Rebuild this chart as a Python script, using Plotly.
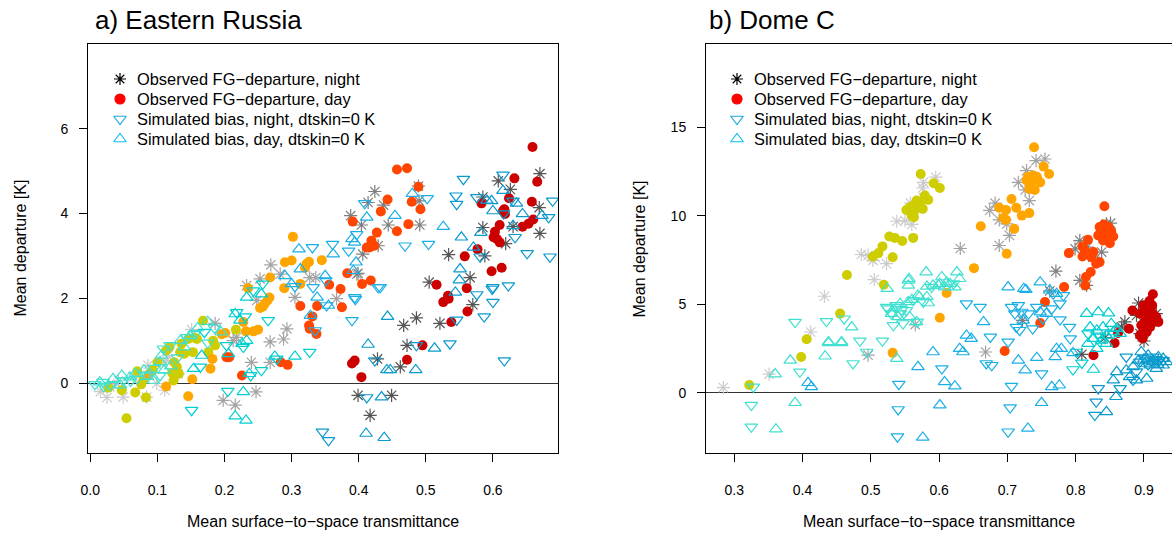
import plotly.graph_objects as go

# ---------------- DATA ----------------
# group = channel group index (1..4) shown by colour shade
# ---- a) Eastern Russia ----
er_day_x = [0.027,0.047,0.067,0.054,0.070,0.079,0.076,0.083,0.093,0.100,0.118,0.122,0.125,0.129,0.132,0.124,0.136,0.140,0.146,0.155,0.159,0.153,0.168,0.176,0.183,0.186,0.217,0.113,0.134,
            0.087,0.113,0.146,0.152,0.179,0.182,0.196,0.201,0.228,0.232,0.243,0.250,0.235,0.253,0.257,0.260,0.264,0.267,0.268,0.289,0.290,0.300,0.302,0.313,0.320,0.322,0.326,0.345,
            0.203,0.207,0.226,0.284,0.294,0.313,0.326,0.331,0.337,0.338,0.356,0.373,0.375,0.383,0.391,0.457,0.472,0.489,0.443,0.479,0.492,0.433,0.427,0.419,0.416,0.423,0.412,0.457,0.474,0.405,0.418,0.327,
            0.390,0.394,0.404,0.472,0.495,0.516,0.526,0.533,0.534,0.538,0.562,0.561,0.659,0.632,0.666,0.583,0.624,0.658,0.617,0.618,0.615,0.610,0.603,0.601,0.606,0.610,0.644,0.653,0.660,0.577,0.558,0.598,0.613]
er_day_y = [-0.11,-0.17,-0.22,-0.83,0.28,0.08,-0.03,-0.34,0.30,0.49,0.85,0.24,0.49,0.38,0.22,0.06,0.93,0.69,1.04,1.07,1.04,0.73,1.47,0.73,1.00,0.89,1.26,0.77,0.73,
            0.20,-0.08,-0.31,0.09,0.34,0.57,1.15,1.18,1.44,1.22,1.22,1.26,2.24,1.77,1.80,1.87,1.95,2.02,2.49,2.24,2.85,2.89,3.45,2.34,2.72,2.81,2.86,2.90,
            0.61,0.61,0.18,0.49,0.43,1.82,1.36,1.57,1.16,1.82,2.32,2.22,1.79,2.59,3.81,5.04,5.07,4.63,4.33,4.28,4.10,4.05,3.55,3.36,3.20,3.24,3.20,3.58,3.75,2.34,2.42,1.28,
            0.46,0.53,0.14,0.55,0.89,2.32,1.91,2.06,1.99,1.44,1.69,2.24,5.57,4.83,4.75,4.24,4.36,4.28,4.10,3.99,4.06,3.73,3.57,3.44,3.40,3.32,3.69,3.76,3.86,3.16,2.99,2.64,2.72]
er_day_g = [1]*29 + [2]*28 + [3]*32 + [4]*33

er_night_x = [0.025,0.049,0.042,0.064,0.086,0.104,0.114,0.116,0.151,0.099,0.084,0.111,0.131,0.015,0.035,
              0.198,0.216,0.186,0.213,0.218,0.233,0.248,0.253,0.269,0.283,0.240,0.268,0.268,0.288,0.293,0.247,0.305,0.327,0.336,0.367,0.397,
              0.424,0.414,0.437,0.489,0.490,0.388,0.404,0.444,0.491,0.429,0.406,0.399,
              0.608,0.670,0.626,0.585,0.669,0.585,0.630,0.619,0.588,0.670,0.534,0.566,0.505,0.570,0.521,0.486,0.467,0.472,0.428,0.462,0.399,0.449,0.417]
er_night_y = [-0.34,-0.33,0.06,0.14,0.42,0.49,0.53,0.65,1.26,-0.01,-0.33,-0.17,0.22,-0.20,-0.05,
              -0.41,-0.52,1.41,1.00,1.08,2.30,1.95,2.46,2.79,2.57,0.49,0.49,0.97,1.04,1.28,-0.21,2.02,2.49,2.49,1.99,2.57,
              4.52,4.26,4.20,4.65,4.30,3.95,3.73,3.73,3.73,3.24,3.04,2.59,
              4.77,4.94,4.57,4.39,4.14,3.67,3.69,3.29,3.00,3.53,3.03,2.49,2.38,1.85,1.41,1.54,1.36,0.89,0.57,0.38,-0.29,-0.29,-0.76]
er_night_g = [1]*15 + [2]*21 + [3]*12 + [4]*23

er_simn_x = [0.007,0.019,0.049,0.084,0.104,0.109,0.119,0.144,0.030,0.070,0.130,0.155,0.185,0.175,0.095,0.060,0.020,
             0.151,0.164,0.205,0.203,0.228,0.218,0.231,0.243,0.257,0.239,0.255,0.278,0.265,0.327,0.170,
             0.331,0.305,0.332,0.351,0.352,0.335,0.361,0.385,0.397,0.395,0.390,0.409,0.469,0.504,0.502,0.432,0.394,0.429,
             0.346,0.355,0.556,0.545,0.546,0.581,0.615,0.616,0.651,0.685,0.689,0.683,0.630,0.576,0.633,0.599,0.623,0.576,0.600,0.600,0.587,0.546,0.486,0.536,0.424,0.617,0.412]
er_simn_y = [-0.03,0.02,0.06,0.20,0.18,0.81,0.89,1.08,-0.05,0.10,0.60,1.15,1.30,0.95,0.35,0.05,-0.08,
             -0.64,0.38,-0.19,0.89,0.85,1.67,1.57,2.18,2.34,0.18,0.30,0.57,1.48,0.73,1.20,
             3.20,2.28,2.26,2.42,1.83,1.24,3.28,3.12,3.51,1.98,1.48,4.24,3.24,3.28,4.36,2.26,2.02,2.26,
             -1.15,-1.35,4.81,4.42,4.22,2.98,4.91,4.00,3.06,2.98,4.30,3.91,4.30,4.38,3.44,2.22,2.30,2.09,1.91,2.26,1.57,1.49,0.89,0.93,0.53,0.53,-0.34]
er_simn_g = [1]*17 + [3]*15 + [2]*18 + [4]*27

er_simd_x = [0.014,0.047,0.067,0.059,0.106,0.104,0.149,0.134,0.094,0.034,0.080,0.120,0.160,0.175,0.195,0.140,0.085,0.110,0.045,
             0.154,0.166,0.216,0.232,0.228,0.206,0.226,0.233,0.216,0.223,0.233,0.255,0.237,0.275,0.305,
             0.311,0.313,0.300,0.290,0.350,0.338,0.328,0.362,0.390,0.396,0.394,0.412,0.454,0.480,0.526,0.392,0.355,
             0.553,0.571,0.598,0.600,0.615,0.635,0.644,0.673,0.591,0.582,0.630,0.551,0.550,0.544,0.443,0.414,0.513,0.442,0.447,0.485,0.434,0.411,0.438]
er_simd_y = [0.02,0.18,0.22,0.14,0.65,0.50,1.12,1.00,0.06,0.10,0.30,0.40,1.30,1.45,1.20,0.85,0.15,0.30,-0.05,
             0.34,0.65,-0.78,-0.88,-0.21,0.69,0.93,1.00,1.63,1.48,2.02,2.10,0.22,0.63,0.63,
             3.16,2.69,2.34,2.53,2.53,2.02,1.59,3.04,3.40,2.85,3.32,3.91,3.95,4.47,3.69,2.65,1.83,
             3.44,3.20,4.30,4.06,4.54,4.24,3.99,3.95,4.31,3.55,3.71,2.69,2.43,2.14,1.57,0.91,0.82,0.31,0.31,0.31,-0.33,-1.19,-1.29]
er_simd_g = [1]*19 + [3]*15 + [2]*17 + [4]*23

# ---- b) Dome C ----
dc_day_x = [0.573,0.592,0.601,0.579,0.584,0.567,0.572,0.562,0.557,0.552,0.563,0.576,0.569,0.560,0.563,0.527,0.535,0.546,0.562,0.517,0.511,0.503,0.532,0.465,0.519,0.455,0.406,0.322,0.398,
            0.739,0.753,0.761,0.745,0.738,0.730,0.734,0.732,0.740,0.748,0.728,0.743,0.706,0.713,0.688,0.698,0.732,0.721,0.694,0.698,0.710,0.661,0.699,0.651,0.611,0.601,0.532,
            0.842,0.835,0.841,0.848,0.852,0.855,0.845,0.838,0.833,0.840,0.848,0.850,0.818,0.810,0.813,0.826,0.823,0.835,0.830,0.790,0.810,0.822,0.815,0.783,0.814,0.755,0.748,0.696,
            0.913,0.908,0.912,0.883,0.899,0.894,0.904,0.913,0.918,0.906,0.901,0.913,0.921,0.896,0.909,0.904,0.899,0.894,0.898,0.878,0.862,0.857,0.826]
dc_day_y = [12.37,11.85,11.58,11.15,10.91,10.87,10.68,10.59,10.49,10.34,10.21,10.40,10.53,10.02,9.93,8.84,8.76,8.58,8.76,8.28,7.90,7.71,7.67,6.66,6.11,4.48,3.03,0.44,2.03,
            13.88,12.79,12.37,12.00,12.28,12.22,11.81,11.53,11.47,11.90,12.00,12.22,10.96,10.46,10.46,10.34,10.16,10.02,9.89,9.78,9.27,9.42,7.86,7.05,5.64,4.25,2.26,
            10.55,9.37,9.52,9.37,9.14,8.84,8.99,9.08,8.90,8.61,8.65,8.46,8.65,8.28,8.05,7.96,7.67,7.39,7.30,7.90,7.71,6.83,6.55,5.98,6.07,5.13,3.95,2.37,
            5.57,5.19,4.95,4.66,4.95,4.48,4.57,4.48,4.29,4.19,4.01,4.01,4.01,3.82,3.72,3.44,3.57,3.25,3.07,3.63,3.39,2.82,2.13]
dc_day_g = [1]*29 + [2]*27 + [3]*28 + [4]*23

dc_night_x = [0.595,0.577,0.576,0.558,0.538,0.550,0.560,0.486,0.496,0.503,0.523,0.506,0.505,0.432,0.412,0.577,0.284,0.351,
              0.742,0.755,0.728,0.716,0.726,0.732,0.682,0.674,0.688,0.699,0.703,0.688,0.631,0.565,0.668,0.496,
              0.806,0.799,0.817,0.825,0.838,0.845,0.851,0.771,0.806,0.816,0.762,0.722,
              0.892,0.889,0.911,0.894,0.900,0.872,0.867,0.843,0.809,0.918]
dc_night_y = [12.19,11.90,11.58,10.72,9.70,9.74,9.52,7.82,7.77,7.49,7.30,7.67,6.40,5.46,3.44,11.02,0.30,1.06,
              13.13,13.22,12.56,11.90,11.47,10.87,10.72,10.31,9.78,9.55,8.90,8.33,8.16,3.86,2.31,2.13,
              8.61,8.14,8.24,7.67,7.96,9.55,9.59,6.88,6.36,6.08,5.76,4.10,
              5.08,4.38,4.01,3.35,2.93,4.01,3.72,3.12,2.18,4.48]
dc_night_g = [1]*18 + [2]*16 + [3]*12 + [4]*10

dc_simn_x = [0.325,0.325,0.328,0.396,0.389,0.435,0.461,0.484,0.474,0.494,0.517,0.525,0.537,0.545,0.533,0.552,0.562,0.577,0.568,0.589,0.621,0.523,0.538,0.530,0.543,0.547,
             0.541,0.540,0.539,0.706,0.716,0.711,0.721,0.713,0.718,0.731,0.737,0.752,0.743,0.767,0.777,0.765,0.782,0.640,0.660,0.675,0.669,0.701,0.750,0.777,0.791,0.792,0.706,0.704,0.701,0.604,0.677,
             0.818,0.835,0.855,0.801,0.809,0.796,
             0.901,0.913,0.921,0.928,0.894,0.884,0.874,0.865,0.833,0.830,0.828,0.906,0.918,0.889]
dc_simn_y = [-0.69,-1.92,0.34,1.19,4.00,4.04,4.19,2.94,1.66,2.31,2.94,4.76,4.95,4.70,3.82,4.66,5.23,5.14,4.01,5.98,6.17,4.85,4.85,4.48,4.48,3.92,
             0.49,-0.94,-2.48,4.85,4.95,4.48,4.57,3.72,3.54,4.48,3.63,4.19,4.85,5.60,5.04,4.76,5.51,5.04,4.85,3.16,1.66,2.88,1.09,4.14,3.72,3.07,0.38,-0.83,-2.20,1.37,1.56,
             3.35,3.16,3.35,2.31,1.69,1.32,
             1.94,2.03,1.75,1.84,1.75,0.72,2.03,0.25,0.25,-0.51,-1.26,1.60,1.90,1.20]
dc_simn_g = [1]*26 + [2]*31 + [3]*6 + [4]*14

dc_simd_x = [0.361,0.360,0.382,0.389,0.433,0.438,0.457,0.472,0.524,0.538,0.556,0.555,0.581,0.530,0.543,0.540,0.557,0.569,0.582,0.584,0.567,0.555,0.571,0.582,0.560,0.604,0.601,0.591,0.611,0.626,0.630,0.623,0.616,0.608,0.438,0.457,0.555,0.599,
             0.408,0.413,0.569,0.576,0.701,0.724,0.748,0.727,0.762,0.772,0.665,0.640,0.647,0.716,0.726,0.743,0.770,0.772,0.779,0.776,0.730,0.750,0.601,0.608,0.623,0.591,0.630,0.635,0.765,0.796,0.723,0.757,0.748,
             0.816,0.833,0.848,0.821,0.831,0.840,0.852,0.860,0.865,0.845,0.838,0.826,0.818,0.831,0.845,0.855,0.826,
             0.896,0.906,0.913,0.921,0.928,0.933,0.901,0.892,0.884,0.874,0.860,0.855,0.879,0.889,0.904,0.918,0.909,0.913,0.928,0.845,0.859,0.920,0.900]
dc_simd_y = [-2.05,1.06,1.84,-0.56,2.07,2.88,2.88,3.72,5.89,1.94,6.45,6.07,6.83,4.48,5.04,4.29,4.29,5.51,6.02,5.08,4.01,5.14,5.42,5.42,5.27,6.55,6.17,6.08,6.26,6.83,6.45,5.98,6.17,5.98,2.82,2.82,6.36,6.08,
             0.57,0.34,1.47,-2.52,5.98,5.89,6.26,5.83,5.80,5.61,4.01,3.25,3.07,1.84,1.28,1.99,2.03,2.50,2.50,0.43,-2.01,-0.56,-0.69,0.62,0.38,2.31,2.50,2.31,0.34,2.26,4.10,4.48,4.57,
             4.48,4.57,4.51,3.72,3.54,3.72,3.91,3.63,3.35,3.25,2.97,3.07,2.78,2.50,2.78,3.44,1.32,
             2.31,2.13,1.84,2.03,1.94,1.75,1.66,1.84,1.47,1.28,1.19,0.72,0.90,0.72,0.81,1.37,1.56,1.75,1.56,-1.07,-0.22,1.60,1.90]
dc_simd_g = [1]*38 + [2]*33 + [3]*17 + [4]*23

legend_labels = ["Observed FG\u2212departure, night", "Observed FG\u2212departure, day",
                 "Simulated bias, night, dtskin=0 K", "Simulated bias, day, dtskin=0 K"]

# ---------------- STYLE ----------------
FONT = "Liberation Sans, Arial, Helvetica, sans-serif"
day_col = {1: "#CDCD00", 2: "#FFA500", 3: "#FF4500", 4: "#CD0000"}
night_col = {1: "#CCCCCC", 2: "#A3A3A3", 3: "#7F7F7F", 4: "#555555"}
sim_col = {1: "#40E0D0", 2: "#1AAFE6", 3: "#00CED1", 4: "#0A9ACD"}

fig = go.Figure()

def add_panel(xa, ya, nx, ny, ng, dx, dy, dg, snx, sny, sng, sdx, sdy, sdg):
    fig.add_trace(go.Scatter(x=nx, y=ny, mode="markers", xaxis=xa, yaxis=ya, showlegend=False,
                             marker=dict(symbol="asterisk-open", size=11,
                                         color=[night_col[g] for g in ng],
                                         line=dict(width=1.2, color=[night_col[g] for g in ng]))))
    fig.add_trace(go.Scatter(x=dx, y=dy, mode="markers", xaxis=xa, yaxis=ya, showlegend=False,
                             marker=dict(symbol="circle", size=10, color=[day_col[g] for g in dg],
                                         line=dict(width=0))))
    fig.add_trace(go.Scatter(x=snx, y=sny, mode="markers", xaxis=xa, yaxis=ya, showlegend=False,
                             marker=dict(symbol="triangle-down-open", size=11,
                                         color=[sim_col[g] for g in sng],
                                         line=dict(width=1.2, color=[sim_col[g] for g in sng]))))
    fig.add_trace(go.Scatter(x=sdx, y=sdy, mode="markers", xaxis=xa, yaxis=ya, showlegend=False,
                             marker=dict(symbol="triangle-up-open", size=11,
                                         color=[sim_col[g] for g in sdg],
                                         line=dict(width=1.2, color=[sim_col[g] for g in sdg]))))

add_panel("x", "y", er_night_x, er_night_y, er_night_g, er_day_x, er_day_y, er_day_g,
          er_simn_x, er_simn_y, er_simn_g, er_simd_x, er_simd_y, er_simd_g)
add_panel("x2", "y2", dc_night_x, dc_night_y, dc_night_g, dc_day_x, dc_day_y, dc_day_g,
          dc_simn_x, dc_simn_y, dc_simn_g, dc_simd_x, dc_simd_y, dc_simd_g)

# ---- hand-placed legends on a pixel-scaled overlay axis (x3/y3) ----
leg_syms = [("asterisk-open", "#000000", 10), ("circle", "#FF0000", 10),
            ("triangle-down-open", "#1CA8DD", 11), ("triangle-up-open", "#12BFEF", 11)]
leg_rows = [79, 99, 119, 139]
leg_sym_x = [120, 737]
annotations = []
for sx in leg_sym_x:
    for (sym, col, sz), ry, lab in zip(leg_syms, leg_rows, legend_labels):
        fig.add_trace(go.Scatter(x=[sx], y=[ry], mode="markers", xaxis="x3", yaxis="y3",
                                 showlegend=False, hoverinfo="skip", cliponaxis=False,
                                 marker=dict(symbol=sym, size=sz, color=col,
                                             line=dict(width=1.2, color=col))))
        annotations.append(dict(text=lab, x=sx + 15, y=ry, xref="x3", yref="y3",
                                xanchor="left", yanchor="middle", showarrow=False,
                                font=dict(family=FONT, size=16.4, color="black")))

axis_common = dict(showgrid=False, ticks="outside", ticklen=8, tickcolor="black",
                   showline=True, linecolor="black", linewidth=1,
                   tickfont=dict(family=FONT, size=14, color="black"))

annotations += [
    dict(text="a) Eastern Russia", x=0.005, y=1.0587, xref="paper", yref="paper",
         xanchor="left", yanchor="middle", showarrow=False, font=dict(family=FONT, size=26)),
    dict(text="b) Dome C", x=0.571, y=1.0587, xref="paper", yref="paper",
         xanchor="left", yanchor="middle", showarrow=False, font=dict(family=FONT, size=26)),
    dict(text="Mean surface\u2212to\u2212space transmittance", x=0.2168, y=-0.1663, xref="paper", yref="paper",
         xanchor="center", yanchor="middle", showarrow=False, font=dict(family=FONT, size=16)),
    dict(text="Mean surface\u2212to\u2212space transmittance", x=0.785, y=-0.1663, xref="paper", yref="paper",
         xanchor="center", yanchor="middle", showarrow=False, font=dict(family=FONT, size=16)),
    dict(text="Mean departure [K]", x=-0.0627, y=0.5, xref="paper", yref="paper", textangle=-90,
         xanchor="center", yanchor="middle", showarrow=False, font=dict(family=FONT, size=16)),
    dict(text="Mean departure [K]", x=0.5092, y=0.5, xref="paper", yref="paper", textangle=-90,
         xanchor="center", yanchor="middle", showarrow=False, font=dict(family=FONT, size=16)),
]

fig.update_layout(
    width=1172, height=533,
    margin=dict(l=88, r=0, t=44, b=80),
    paper_bgcolor="white", plot_bgcolor="rgba(0,0,0,0)",
    font=dict(family=FONT, color="black"),
    showlegend=False,
    xaxis=dict(domain=[0, 0.4336], range=[-0.0034, 0.697], tick0=0, dtick=0.1, tickformat=".1f",
               mirror=True, zeroline=False, ticklabelstandoff=16, anchor="y", **axis_common),
    yaxis=dict(domain=[0, 1], range=[-1.65, 8.0], tickvals=[0, 2, 4, 6], mirror=True,
               zeroline=True, zerolinecolor="#333333", zerolinewidth=1, ticklabelstandoff=8,
               anchor="x", **axis_common),
    xaxis2=dict(domain=[0.5701, 1.0], range=[0.2586, 0.941], tick0=0.3, dtick=0.1, tickformat=".1f",
                mirror=True, zeroline=False, ticklabelstandoff=16, anchor="y2", **axis_common),
    yaxis2=dict(domain=[0, 1], range=[-3.40, 19.72], tickvals=[0, 5, 10, 15], mirror=False,
                zeroline=True, zerolinecolor="#333333", zerolinewidth=1, ticklabelstandoff=8,
                anchor="x2", **axis_common),
    xaxis3=dict(domain=[0, 1], range=[88, 1172], visible=False, anchor="y3", fixedrange=True),
    yaxis3=dict(domain=[0, 1], range=[453, 44], visible=False, anchor="x3", fixedrange=True),
    annotations=annotations,
)

fig.write_html("out.html")
